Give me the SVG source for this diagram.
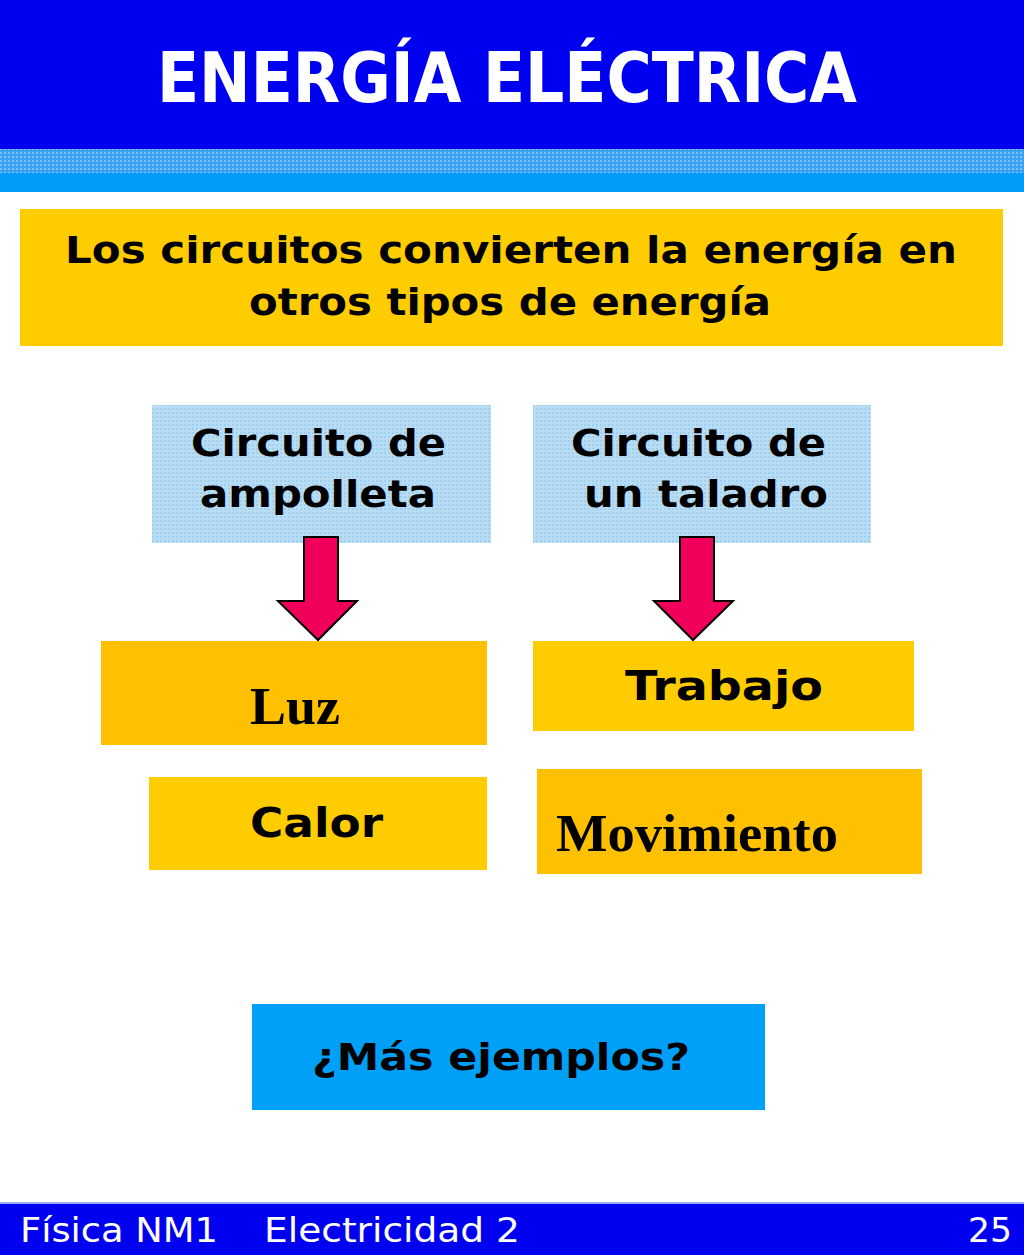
<svg xmlns="http://www.w3.org/2000/svg" width="1024" height="1255" viewBox="0 0 1024 1255">
<defs>
<pattern id="dots" width="4" height="4" patternUnits="userSpaceOnUse"><rect width="4" height="4" fill="#b8dcf4"/><rect width="2" height="2" fill="#9fd0f0"/></pattern>
<pattern id="band" width="4" height="4" patternUnits="userSpaceOnUse"><rect width="4" height="4" fill="#3aa4f4"/><rect width="2" height="2" fill="#80c0f8"/></pattern>
</defs>
<style>
.v{font-family:Verdana,"DejaVu Sans",sans-serif;font-weight:bold;fill:#000}
.t{font-family:"Liberation Serif",serif;font-weight:bold;fill:#000}
.f{font-family:Verdana,"DejaVu Sans",sans-serif;font-size:34px;fill:#fff}
.arr{fill:#f0005a;stroke:#000;stroke-width:2}
</style>
<rect width="1024" height="1255" fill="#fff"/>
<rect x="0" y="0" width="1024" height="149" fill="#0000f0"/>
<rect x="0" y="149" width="1024" height="24" fill="url(#band)"/>
<rect x="0" y="173" width="1024" height="19" fill="#009cf8"/>
<text x="157" y="102" font-family="Verdana,'DejaVu Sans',sans-serif" font-weight="bold" font-size="70" fill="#fff" textLength="700" lengthAdjust="spacingAndGlyphs">ENERGÍA ELÉCTRICA</text>
<g id="intro"><rect x="20" y="209" width="983" height="137" fill="#ffcc00"/>
<text class="v" x="65" y="263" font-size="38" textLength="892" lengthAdjust="spacingAndGlyphs">Los circuitos convierten la energía en</text>
<text class="v" x="249" y="315" font-size="38" textLength="522" lengthAdjust="spacingAndGlyphs">otros tipos de energía</text></g>
<g id="ampolleta"><rect x="152" y="405" width="339" height="138" fill="url(#dots)"/>
<text class="v" x="191" y="456" font-size="38" textLength="255" lengthAdjust="spacingAndGlyphs">Circuito de</text><text class="v" x="200" y="507" font-size="38" textLength="236" lengthAdjust="spacingAndGlyphs">ampolleta</text></g>
<g id="taladro"><rect x="533" y="405" width="338" height="138" fill="url(#dots)"/>
<text class="v" x="571" y="456" font-size="38" textLength="255" lengthAdjust="spacingAndGlyphs">Circuito de</text><text class="v" x="584" y="507" font-size="38" textLength="244" lengthAdjust="spacingAndGlyphs">un taladro</text></g>
<g id="luz"><rect x="101" y="641" width="386" height="104" fill="#ffc000"/><text class="t" x="250" y="724" font-size="52" textLength="90" lengthAdjust="spacingAndGlyphs">Luz</text></g>
<g id="trabajo"><rect x="533" y="641" width="381" height="90" fill="#ffcc00"/><text class="v" x="625" y="700" font-size="40" textLength="198" lengthAdjust="spacingAndGlyphs">Trabajo</text></g>
<g id="calor"><rect x="149" y="777" width="338" height="93" fill="#ffcc00"/><text class="v" x="250" y="837" font-size="40" textLength="133" lengthAdjust="spacingAndGlyphs">Calor</text></g>
<g id="movimiento"><rect x="537" y="769" width="385" height="105" fill="#ffc000"/><text class="t" x="556" y="851" font-size="52" textLength="282" lengthAdjust="spacingAndGlyphs">Movimiento</text></g>
<g id="mas"><rect x="252" y="1004" width="513" height="106" fill="#00a0f8"/><text class="v" x="312" y="1070" font-size="38" textLength="378" lengthAdjust="spacingAndGlyphs">¿Más ejemplos?</text></g>
<g id="connectors">
<polygon class="arr" points="304,537 338,537 338,601 357,601 318,640 278,601 304,601"/>
<polygon class="arr" points="680,537 714,537 714,601 733,601 693,640 654,601 680,601"/>
</g>
<rect x="0" y="1203" width="1024" height="52" fill="#0000f0"/>
<rect x="0" y="1202" width="1024" height="2" fill="#a0a8f8"/>
<text class="f" x="20" y="1242" textLength="198" lengthAdjust="spacingAndGlyphs">Física NM1</text>
<text class="f" x="264" y="1242" textLength="256" lengthAdjust="spacingAndGlyphs">Electricidad 2</text>
<text class="f" x="968" y="1242" textLength="44" lengthAdjust="spacingAndGlyphs">25</text>
</svg>
